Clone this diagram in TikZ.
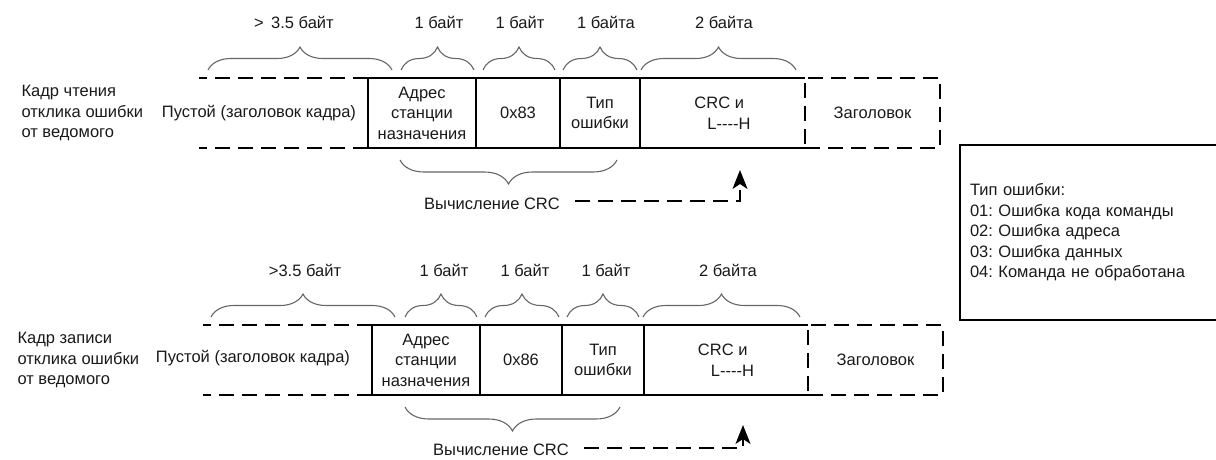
\documentclass[tikz,border=0pt]{standalone}
\usepackage{fontspec}
\setmainfont{Liberation Sans}
\usetikzlibrary{positioning,decorations.pathreplacing,arrows.meta}
\frenchspacing

\begin{document}
\begin{tikzpicture}[x=1pt, y=-1pt,
    every node/.style={font=\fontsize{16.5}{20.5}\selectfont, text=black!90},
    cell/.style={rectangle, draw, line width=1.4pt, minimum height=70, inner sep=0pt, outer sep=0pt, align=center},
    addrcell/.style={cell, line width=2.3pt},
    dashline/.style={line width=1.8pt, dash pattern=on 15pt off 8pt},
    span/.style={decorate, decoration={brace, amplitude=23pt}, draw=black!60, line width=1.1pt},
    crcspan/.style={decorate, decoration={brace, amplitude=24pt, mirror}, draw=black!60, line width=1.1pt},
    crcarrow/.style={dashline, -{Stealth[length=19pt, width=15pt, inset=5pt]}}]

    \useasboundingbox (0,0) rectangle (1216,459);

    % read frame
    \node[anchor=west, align=left] (title1) at (18,113) {Кадр чтения\\отклика ошибки\\от ведомого};
    \node[cell, draw=none, minimum width=169] (gap1) at (283.5,113) {};
    \node (gaptxt1) at (259,113) {Пустой (заголовок кадра)};
    \node[addrcell, minimum width=108] (addr1) at (422,113) {Адрес\\станции\\назначения};
    \node[cell, minimum width=84, right=0pt of addr1] (code1) {0x83};
    \node[cell, minimum width=80, right=0pt of code1] (type1) {Тип\\ошибки};
    \node[cell, draw=none, minimum width=165, right=0pt of type1, align=left] (crc1) {CRC и\\\hspace{13pt}L-{}-{}-{}-H};
    \node[cell, dashline, minimum width=135, right=0pt of crc1] (head1) {Заголовок};
    \draw[line width=1.4pt] (crc1.north east) -- (crc1.north west) (crc1.south west) -- (crc1.south east);
    \draw[dashline] (gap1.north east) -- (gap1.north west) (gap1.south east) -- (gap1.south west);

    \draw[span] (208,70) -- (392,70);
    \draw[span] (401,70) -- (474,70);
    \draw[span] (483,70) -- (555,70);
    \draw[span] (563,70) -- (637,70);
    \draw[span] (641,70) -- (796,70);
    \node (len1a) at (294,22) {> \,3.5 байт};
    \node (len1b) at (439,22) {1 байт};
    \node (len1c) at (520,22) {1 байт};
    \node (len1d) at (606,22) {1 байта};
    \node (len1e) at (724,22) {2 байта};

    \draw[crcspan] (400,160) -- (617,160);
    \node (crcnote1) at (492,204) {Вычисление CRC};
    \coordinate (tip1) at (740,170);
    \draw[crcarrow] ([xshift=12pt, yshift=3pt]crcnote1.east) -| (tip1);

    % write frame
    \node[anchor=west, align=left] (title2) at (14,360) {Кадр записи\\отклика ошибки\\от ведомого};
    \node[cell, draw=none, minimum width=169] (gap2) at (287.5,360) {};
    \node (gaptxt2) at (253,358) {Пустой (заголовок кадра)};
    \node[addrcell, minimum width=108] (addr2) at (426,360) {Адрес\\станции\\назначения};
    \node[cell, minimum width=82, right=0pt of addr2] (code2) {0x86};
    \node[cell, minimum width=82, right=0pt of code2] (type2) {Тип\\ошибки};
    \node[cell, draw=none, minimum width=164, right=0pt of type2, align=left] (crc2) {CRC и\\\hspace{13pt}L-{}-{}-{}-H};
    \node[cell, dashline, minimum width=135, right=0pt of crc2] (head2) {Заголовок};
    \draw[line width=1.4pt] (crc2.north east) -- (crc2.north west) (crc2.south west) -- (crc2.south east);
    \draw[dashline] (gap2.north east) -- (gap2.north west) (gap2.south east) -- (gap2.south west);

    \draw[span] (211,317) -- (395,317);
    \draw[span] (405,317) -- (477,317);
    \draw[span] (485,317) -- (559,317);
    \draw[span] (567,317) -- (639,317);
    \draw[span] (643,317) -- (800,317);
    \node (len2a) at (305,270) {>3.5 байт};
    \node (len2b) at (444,270) {1 байт};
    \node (len2c) at (525,270) {1 байт};
    \node (len2d) at (606,270) {1 байт};
    \node (len2e) at (728,270) {2 байта};

    \draw[crcspan] (405,407) -- (620,407);
    \node (crcnote2) at (501,450) {Вычисление CRC};
    \coordinate (tip2) at (743,425);
    \draw[crcarrow] ([xshift=12pt, yshift=2pt]crcnote2.east) -| (tip2);

    % error codes
    \node[rectangle, draw, line width=1.6pt, minimum height=175, text width=240, inner sep=10pt, align=left] (legend) at (1090,232.5)
        {Тип ошибки:\\01: Ошибка кода команды\\02: Ошибка адреса\\03: Ошибка данных\\04: Команда не обработана};
\end{tikzpicture}
\end{document}
